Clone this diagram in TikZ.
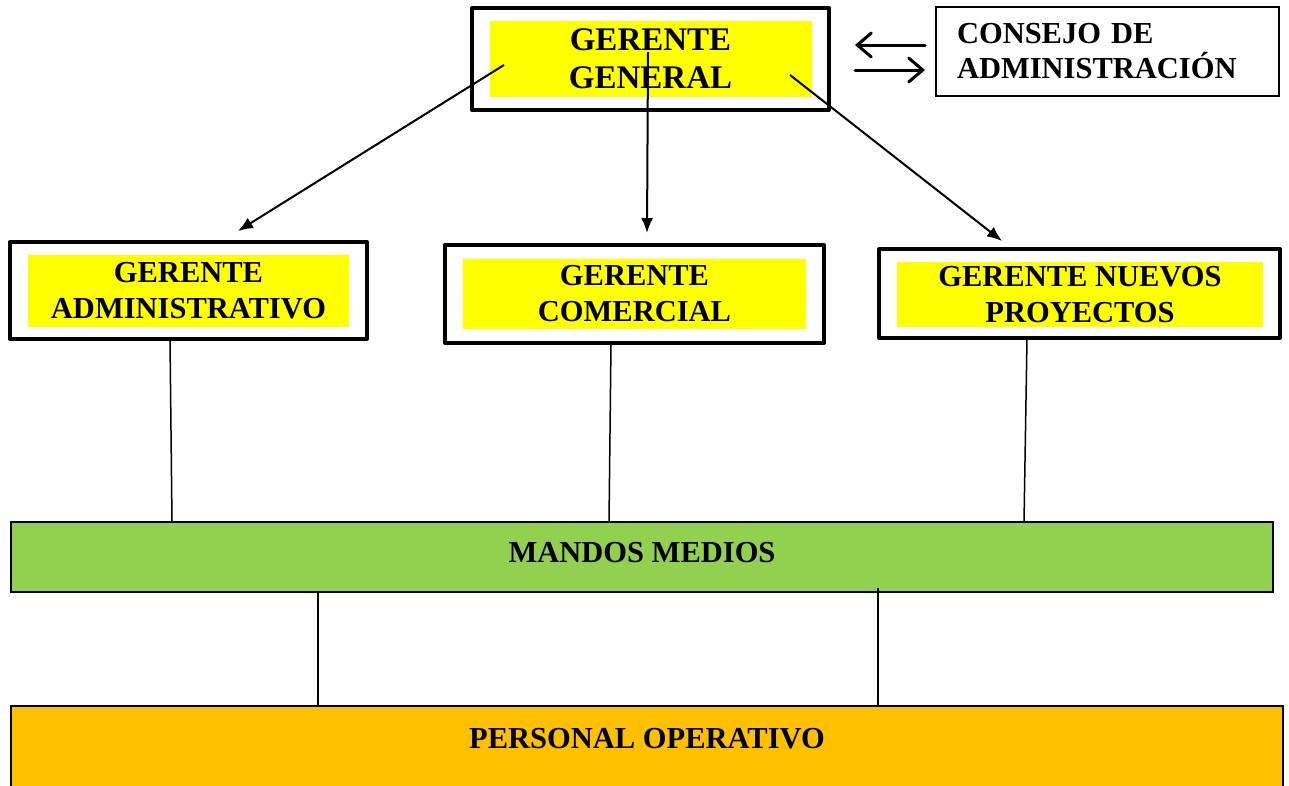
\documentclass[tikz,border=0pt]{standalone}
\usepackage{fontspec}
\setmainfont{Liberation Serif}
\usetikzlibrary{arrows.meta}

\definecolor{mgrYellow}{HTML}{FFFF00}
\definecolor{midGreen}{HTML}{92D050}
\definecolor{opOrange}{HTML}{FFC000}

\tikzset{
  mgrframe/.style={draw, line width=4pt, line join=round, inner sep=0pt, outer sep=0pt},
  mgrfill/.style={fill=mgrYellow, inner sep=0pt, outer sep=0pt, align=center, font=\bfseries\fontsize{30.5}{36}\selectfont},
  bar/.style={draw, line width=1.5pt, inner sep=0pt, outer sep=0pt, anchor=north, font=\bfseries\fontsize{30.5}{36}\selectfont},
  down/.style={line width=2pt, -{Latex[length=15pt, width=12pt]}},
  link/.style={line width=3pt, line cap=round, -{Straight Barb[length=14pt, width=24pt, line cap=round]}},
  tie/.style={line width=1.5pt}
}

\begin{document}
\begin{tikzpicture}[x=1pt, y=-1pt]
    \useasboundingbox (0,0) rectangle (1289,785);

    % gerente general + consejo
    \node[mgrframe, minimum width=357pt, minimum height=102pt] (gg) at (650.5,59) {};
    \node[mgrfill, minimum width=322pt, minimum height=76pt, font=\bfseries\fontsize{33}{38}\selectfont] (ggIn) at (650.5,59) {GERENTE\\GENERAL};
    \node[draw, line width=2pt, inner sep=0pt, outer sep=0pt, minimum width=343pt, minimum height=89pt, text width=301pt, align=left,
          font=\bfseries\fontsize{30.5}{35}\selectfont] (consejo) at (1107.5,51.5) {CONSEJO DE\\ADMINISTRACIÓN};

    % second level
    \node[mgrframe, minimum width=357pt, minimum height=97pt] (ga) at (188.5,290.5) {};
    \node[mgrfill, minimum width=321pt, minimum height=72pt] (gaIn) at (188.5,291) {GERENTE\\ADMINISTRATIVO};
    \node[mgrframe, minimum width=379pt, minimum height=98pt] (gc) at (634.5,294) {};
    \node[mgrfill, minimum width=343pt, minimum height=70pt] (gcIn) at (634.5,294) {GERENTE\\COMERCIAL};
    \node[mgrframe, minimum width=401pt, minimum height=89pt] (gnp) at (1079.5,293.5) {};
    \node[mgrfill, minimum width=366pt, minimum height=65pt] (gnpIn) at (1080,294.5) {GERENTE NUEVOS\\PROYECTOS};

    % bars
    \node[bar, fill=midGreen, minimum width=1262pt, text height=40.5pt, text depth=29.5pt] (mm) at (642,522) {MANDOS MEDIOS};
    \node[bar, fill=opOrange, minimum width=1272pt, text height=42pt, text depth=52pt] (po) at (647,706) {PERSONAL OPERATIVO};

    % arrows
    \draw[down] ([shift={(-146.5,6)}]gg.center) -- ([shift={(49.5,-11)}]ga.north);
    \draw[down] ([shift={(-2.5,-7)}]gg.center) -- ([shift={(12.5,-12)}]gc.north);
    \draw[down] ([shift={(139.5,16)}]gg.center) -- ([shift={(-77.5,-8)}]gnp.north);
    \draw[link] ([shift={(-11,-6.5)}]consejo.west) -- ([shift={(-81,-6.5)}]consejo.west);
    \draw[link] ([shift={(-81,18.5)}]consejo.west) -- ([shift={(-11,18.5)}]consejo.west);

    % plain lines
    \draw[tie] ([xshift=-18.5pt]ga.south) -- ([xshift=-470pt]mm.north);
    \draw[tie] ([xshift=-23.5pt]gc.south) -- ([xshift=-33pt]mm.north);
    \draw[tie] ([xshift=-52.5pt]gnp.south) -- ([xshift=382pt]mm.north);
    \draw[tie] ([xshift=-324pt]mm.south) -- ([xshift=-329pt]po.north);
    \draw[tie] ([shift={(236,-4)}]mm.south) -- ([xshift=231pt]po.north);
\end{tikzpicture}
\end{document}
